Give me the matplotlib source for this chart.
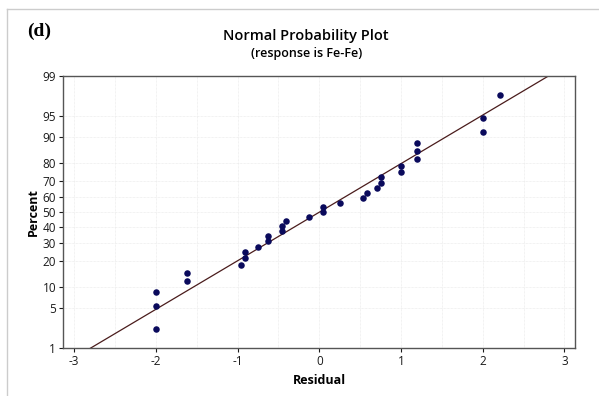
import math
import numpy as np
import matplotlib
matplotlib.use("Agg")
import matplotlib.pyplot as plt
from matplotlib.lines import Line2D

# residuals (sorted)
residuals = [-2.00, -2.00, -2.00, -1.62, -1.62, -0.96, -0.91, -0.91, -0.75,
             -0.63, -0.63, -0.46, -0.46, -0.41, -0.12, 0.04, 0.04, 0.25,
             0.53, 0.59, 0.71, 0.75, 0.75, 1.00, 1.00, 1.20, 1.20, 1.20,
             2.00, 2.00, 2.21]
fit_mean = 0.004
fit_sd = 1.204
pct_ticks = [1, 5, 10, 20, 30, 40, 50, 60, 70, 80, 90, 95, 99]
x_ticks = [-3, -2, -1, 0, 1, 2, 3]


def norm_cdf(z):
    z = np.asarray(z, dtype=float)
    return 0.5 * (1 + np.vectorize(math.erf)(z / math.sqrt(2)))


def norm_ppf(p):
    # Acklam's rational approximation
    p = np.clip(np.asarray(p, dtype=float), 1e-12, 1 - 1e-12)
    a = [-3.969683028665376e+01, 2.209460984245205e+02, -2.759285104469687e+02,
         1.383577518672690e+02, -3.066479806614716e+01, 2.506628277459239e+00]
    b = [-5.447609879822406e+01, 1.615858368580409e+02, -1.556989798598866e+02,
         6.680131188771972e+01, -1.328068155288572e+01]
    c = [-7.784894002430293e-03, -3.223964580411365e-01, -2.400758277161838e+00,
         -2.549732539343734e+00, 4.374664141464968e+00, 2.938163982698783e+00]
    d = [7.784695709041462e-03, 3.224671290700398e-01, 2.445134137142996e+00,
         3.754408661907416e+00]
    plow = 0.02425
    out = np.empty_like(p)
    lo = p < plow
    hi = p > 1 - plow
    mid = ~(lo | hi)
    q = np.sqrt(-2 * np.log(p[lo]))
    out[lo] = (((((c[0]*q+c[1])*q+c[2])*q+c[3])*q+c[4])*q+c[5]) / \
              ((((d[0]*q+d[1])*q+d[2])*q+d[3])*q+1)
    q = np.sqrt(-2 * np.log(1 - p[hi]))
    out[hi] = -(((((c[0]*q+c[1])*q+c[2])*q+c[3])*q+c[4])*q+c[5]) / \
               ((((d[0]*q+d[1])*q+d[2])*q+d[3])*q+1)
    q = p[mid] - 0.5
    r = q * q
    out[mid] = (((((a[0]*r+a[1])*r+a[2])*r+a[3])*r+a[4])*r+a[5])*q / \
               (((((b[0]*r+b[1])*r+b[2])*r+b[3])*r+b[4])*r+1)
    return out


def fwd(pct):
    return norm_ppf(np.asarray(pct, dtype=float) / 100.0)


def inv(z):
    return norm_cdf(z) * 100.0


# Minitab plotting positions (Benard median ranks)
n = len(residuals)
ranks = np.arange(1, n + 1)
percent = (ranks - 0.3) / (n + 0.4) * 100

plt.rcParams['font.family'] = ['Open Sans', 'DejaVu Sans']
plt.rcParams['axes.unicode_minus'] = False

fig = plt.figure(figsize=(5.99, 3.96), dpi=100)
ax = fig.add_axes([63 / 599, 1 - 348 / 396, (575 - 63) / 599, (348 - 76) / 396])
ax.set_yscale('function', functions=(fwd, inv))

# fitted line
zline = np.linspace(-2.5, 2.5, 50)
xline = fit_mean + fit_sd * zline
ax.plot(xline, inv(zline), color='#4a1c1c', lw=0.9, zorder=2)
ax.scatter(residuals, percent, s=22, color='#0a0a5c', zorder=3, linewidths=0)

ax.set_xlim(-3.137, 3.13)
ax.set_ylim(1, 99)
ax.set_yticks(pct_ticks)
ax.set_yticklabels([str(t) for t in pct_ticks])
ax.set_xticks(x_ticks)
ax.set_xticks(np.arange(-3, 3.01, 0.5), minor=True)
ax.yaxis.set_minor_locator(matplotlib.ticker.NullLocator())
ax.tick_params(which='major', length=3, width=0.8, labelsize=8.5, colors='#1a1a1a', pad=2)
ax.tick_params(which='minor', length=0)
ax.grid(True, which='both', axis='x', color='#e6e6e6', lw=0.5, ls=(0, (1, 1)))
ax.grid(True, which='major', axis='y', color='#e6e6e6', lw=0.5, ls=(0, (1, 1)))
ax.set_axisbelow(True)
for s in ax.spines.values():
    s.set_color('#555555')
    s.set_linewidth(1.0)

ax.set_xlabel('Residual', fontsize=9, fontweight='bold', labelpad=4)
ax.set_ylabel('Percent', fontsize=9, fontweight='bold', labelpad=2)

fig.text(306 / 599, 1 - 36 / 396, 'Normal Probability Plot', ha='center', va='center',
         fontsize=10.5, fontweight='semibold')
fig.text(307 / 599, 1 - 53 / 396, '(response is Fe-Fe)', ha='center', va='center',
         fontsize=9, fontweight='semibold')
fig.text(39 / 599, 1 - 31 / 396, '(d)', ha='center', va='center', fontsize=14,
         fontweight='bold', family='Liberation Serif')

# light frame around the panel
fig.add_artist(Line2D([7 / 599, 1], [1 - 9 / 396, 1 - 9 / 396], color='#cccccc', lw=1))
fig.add_artist(Line2D([7 / 599, 7 / 599], [1 - 9 / 396, 0], color='#cccccc', lw=1))

fig.savefig('out.png', dpi=100)
